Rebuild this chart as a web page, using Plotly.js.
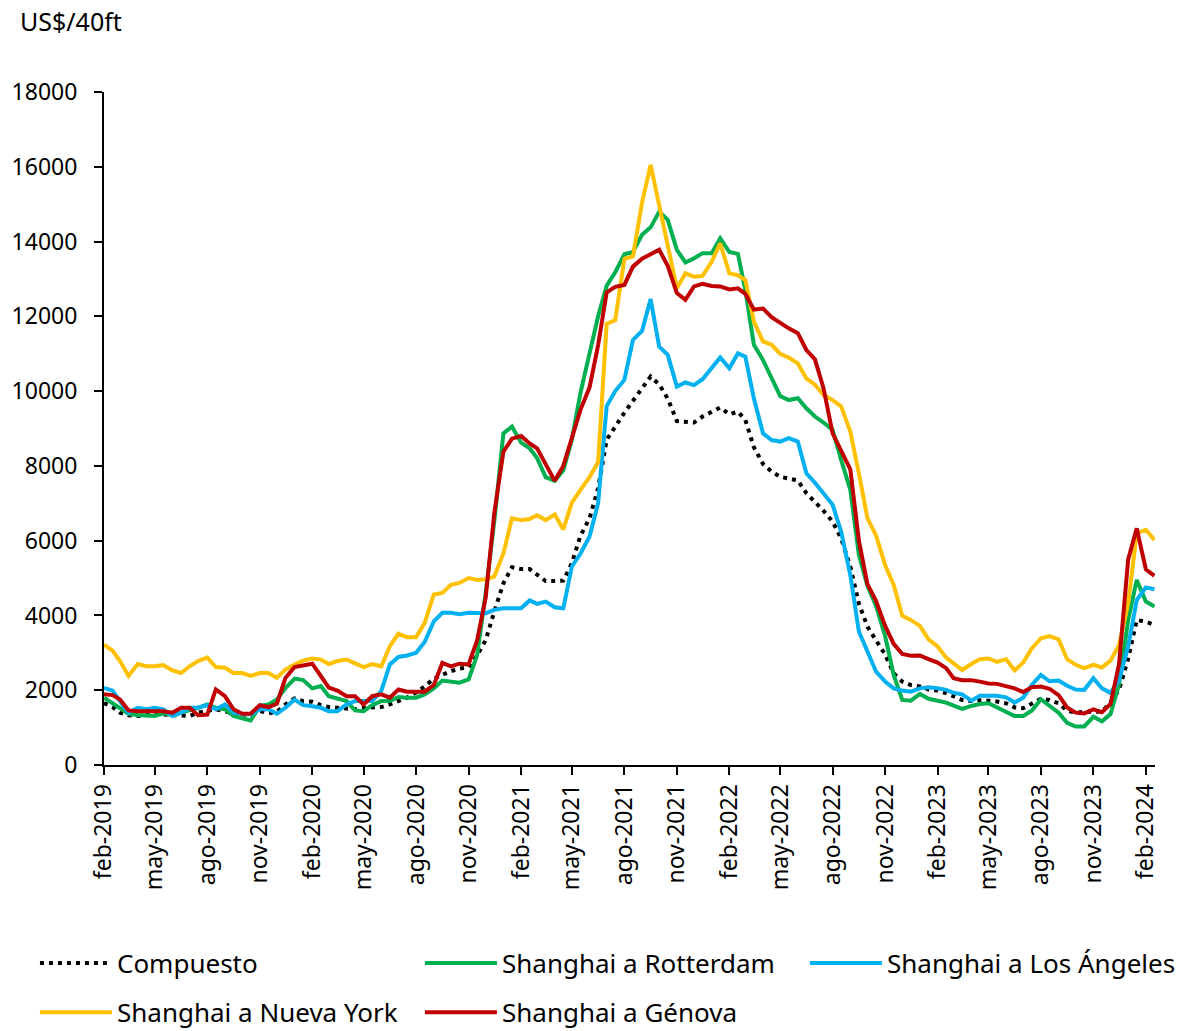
<!DOCTYPE html>
<html>
<head>
<meta charset="utf-8">
<script src="https://cdn.plot.ly/plotly-3.0.1.min.js"></script>
<style>
html, body { margin: 0; padding: 0; background: #fff; }
#chart { width: 1191px; height: 1031px; }
</style>
</head>
<body>
<div id="chart"></div>
<script>
// Semi-monthly sampling dates (categories)
const dates = [
"2019-02-01","2019-02-16","2019-03-01","2019-03-16","2019-04-01","2019-04-16","2019-05-01","2019-05-16","2019-06-01","2019-06-16",
"2019-07-01","2019-07-16","2019-08-01","2019-08-16","2019-09-01","2019-09-16","2019-10-01","2019-10-16","2019-11-01","2019-11-16",
"2019-12-01","2019-12-16","2020-01-01","2020-01-16","2020-02-01","2020-02-16","2020-03-01","2020-03-16","2020-04-01","2020-04-16",
"2020-05-01","2020-05-16","2020-06-01","2020-06-16","2020-07-01","2020-07-16","2020-08-01","2020-08-16","2020-09-01","2020-09-16",
"2020-10-01","2020-10-16","2020-11-01","2020-11-16","2020-12-01","2020-12-16","2021-01-01","2021-01-16","2021-02-01","2021-02-16",
"2021-03-01","2021-03-16","2021-04-01","2021-04-16","2021-05-01","2021-05-16","2021-06-01","2021-06-16","2021-07-01","2021-07-16",
"2021-08-01","2021-08-16","2021-09-01","2021-09-16","2021-10-01","2021-10-16","2021-11-01","2021-11-16","2021-12-01","2021-12-16",
"2022-01-01","2022-01-16","2022-02-01","2022-02-16","2022-03-01","2022-03-16","2022-04-01","2022-04-16","2022-05-01","2022-05-16",
"2022-06-01","2022-06-16","2022-07-01","2022-07-16","2022-08-01","2022-08-16","2022-09-01","2022-09-16","2022-10-01","2022-10-16",
"2022-11-01","2022-11-16","2022-12-01","2022-12-16","2023-01-01","2023-01-16","2023-02-01","2023-02-16","2023-03-01","2023-03-16",
"2023-04-01","2023-04-16","2023-05-01","2023-05-16","2023-06-01","2023-06-16","2023-07-01","2023-07-16","2023-08-01","2023-08-16",
"2023-09-01","2023-09-16","2023-10-01","2023-10-16","2023-11-01","2023-11-16","2023-12-01","2023-12-16","2024-01-01","2024-01-16",
"2024-02-01","2024-02-16"
];

const compuesto = [
1660,1550,1400,1330,1310,1340,1350,1350,1340,1330,
1310,1400,1460,1490,1440,1370,1340,1370,1450,1380,
1420,1620,1780,1710,1690,1600,1550,1530,1490,1490,
1530,1530,1550,1620,1710,1800,1940,2100,2310,2420,
2510,2580,2610,2940,3340,4100,4860,5290,5240,5240,
5090,4920,4920,4930,5400,6130,6600,7400,8700,9060,
9420,9740,10100,10390,10180,9800,9200,9180,9160,9320,
9430,9560,9380,9450,9230,8500,8050,7850,7710,7650,
7610,7270,7040,6800,6510,6060,5310,4320,3700,3350,
2950,2450,2230,2140,2100,2020,1990,1920,1830,1740,
1710,1730,1720,1700,1650,1540,1520,1630,1770,1740,
1650,1450,1400,1420,1430,1430,1670,2010,2850,3880,
3830,3750
];

const rotterdam = [
1800,1660,1530,1370,1335,1335,1310,1380,1330,1400,
1460,1530,1620,1530,1490,1310,1250,1190,1580,1620,
1750,2060,2310,2270,2050,2110,1840,1780,1710,1460,
1440,1600,1710,1710,1820,1800,1800,1890,2050,2260,
2240,2200,2290,2940,4610,6510,8870,9050,8620,8470,
8210,7700,7600,7880,8700,9950,11010,12000,12820,13180,
13660,13720,14180,14380,14800,14580,13780,13440,13550,13690,
13690,14090,13720,13670,12700,11240,10830,10340,9870,9760,
9810,9540,9320,9160,8960,8160,7360,5620,4790,4260,
3450,2410,1740,1720,1900,1770,1720,1670,1590,1500,
1580,1630,1650,1540,1410,1310,1310,1450,1760,1590,
1400,1130,1030,1030,1290,1170,1360,2160,3880,4950,
4370,4240
];

const losAngeles = [
2060,1990,1710,1400,1530,1490,1530,1490,1310,1400,
1530,1530,1600,1490,1620,1400,1370,1350,1490,1490,
1370,1530,1750,1600,1570,1530,1440,1440,1620,1710,
1710,1710,1980,2690,2890,2930,3000,3290,3840,4070,
4070,4030,4070,4070,4060,4150,4190,4190,4190,4400,
4310,4370,4220,4190,5310,5650,6110,7000,9600,10000,
10300,11370,11610,12460,11190,10970,10120,10230,10160,10320,
10600,10900,10610,11010,10920,9800,8870,8690,8650,8740,
8650,7800,7550,7270,6960,6240,5080,3570,3000,2500,
2230,2050,1990,1960,2050,2080,2050,2010,1930,1890,
1720,1850,1850,1850,1810,1670,1800,2140,2410,2240,
2260,2120,2020,2010,2320,2050,1930,2270,3170,4410,
4750,4700
];

const nuevaYork = [
3220,3060,2780,2380,2700,2640,2640,2670,2530,2460,
2640,2780,2870,2620,2600,2460,2460,2380,2460,2460,
2330,2550,2690,2790,2850,2820,2700,2780,2820,2730,
2620,2700,2640,3180,3510,3420,3420,3800,4560,4600,
4820,4870,5000,4950,4970,5040,5660,6600,6550,6580,
6680,6550,6700,6300,7020,7360,7700,8100,11800,11900,
13540,13600,15040,16050,14980,13870,12750,13150,13060,13080,
13460,13950,13150,13100,12970,11860,11330,11240,11000,10900,
10740,10340,10170,9900,9760,9590,8920,7800,6600,6140,
5350,4820,3990,3880,3720,3360,3170,2870,2720,2540,
2700,2830,2850,2760,2830,2530,2740,3120,3390,3450,
3360,2830,2680,2590,2680,2610,2790,3210,4320,6200,
6290,6020
];

const genova = [
1890,1870,1750,1460,1440,1440,1460,1440,1400,1530,
1530,1330,1350,2020,1840,1490,1370,1370,1600,1550,
1640,2330,2620,2670,2710,2380,2070,1990,1840,1840,
1620,1840,1890,1800,2020,1960,1960,1960,2140,2730,
2640,2710,2690,3340,4480,6730,8380,8730,8800,8600,
8470,8030,7600,8000,8780,9500,10100,11230,12640,12790,
12840,13330,13540,13660,13780,13350,12620,12440,12800,12870,
12810,12800,12720,12750,12600,12180,12210,11980,11820,11680,
11550,11100,10850,10080,8870,8380,7910,6000,4840,4390,
3720,3240,2970,2920,2930,2830,2740,2590,2320,2270,
2270,2230,2180,2170,2120,2050,1950,2080,2100,2040,
1870,1540,1400,1380,1490,1410,1630,2700,5500,6330,
5230,5060
];

const seriesNames = ["Compuesto","Shanghai a Rotterdam","Shanghai a Los Ángeles","Shanghai a Nueva York","Shanghai a Génova"];

const tickVals = [
"2019-02-01","2019-05-01","2019-08-01","2019-11-01","2020-02-01","2020-05-01","2020-08-01","2020-11-01",
"2021-02-01","2021-05-01","2021-08-01","2021-11-01","2022-02-01","2022-05-01","2022-08-01","2022-11-01",
"2023-02-01","2023-05-01","2023-08-01","2023-11-01","2024-02-01"
];
const tickText = [
"feb-2019","may-2019","ago-2019","nov-2019","feb-2020","may-2020","ago-2020","nov-2020",
"feb-2021","may-2021","ago-2021","nov-2021","feb-2022","may-2022","ago-2022","nov-2022",
"feb-2023","may-2023","ago-2023","nov-2023","feb-2024"
];

const FONT = "Noto Sans, DejaVu Sans, sans-serif";

const traces = [
  {x: dates, y: compuesto, name: seriesNames[0], type: "scatter", mode: "lines",
   line: {color: "#000000", width: 4, dash: "4px,5px"}, legend: "legend"},
  {x: dates, y: rotterdam, name: seriesNames[1], type: "scatter", mode: "lines",
   line: {color: "#00B050", width: 4}, legend: "legend"},
  {x: dates, y: losAngeles, name: seriesNames[2], type: "scatter", mode: "lines",
   line: {color: "#00B0F0", width: 4}, legend: "legend"},
  {x: dates, y: nuevaYork, name: seriesNames[3], type: "scatter", mode: "lines",
   line: {color: "#FFC000", width: 4}, legend: "legend2"},
  {x: dates, y: genova, name: seriesNames[4], type: "scatter", mode: "lines",
   line: {color: "#C00000", width: 4}, legend: "legend2"}
];

const legendBase = {
  orientation: "h",
  xanchor: "left",
  yanchor: "top",
  x: -0.0657,
  entrywidth: 298,
  entrywidthmode: "pixels",
  itemwidth: 72,
  font: {family: FONT, size: 26, color: "#000"},
  bgcolor: "rgba(0,0,0,0)",
  borderwidth: 0,
  traceorder: "normal"
};

const layout = {
  width: 1191,
  height: 1031,
  margin: {l: 104, r: 36, t: 92, b: 266, autoexpand: false},
  paper_bgcolor: "#ffffff",
  plot_bgcolor: "#ffffff",
  showlegend: true,
  font: {family: FONT, color: "#000"},
  xaxis: {
    type: "date",
    range: ["2019-02-01", "2024-02-17"],
    tickmode: "array",
    tickvals: tickVals,
    ticktext: tickText,
    tickangle: -90,
    ticks: "outside",
    ticklen: 8,
    tickwidth: 1.5,
    tickcolor: "#000",
    showline: true,
    linecolor: "#000",
    linewidth: 2,
    showgrid: false,
    zeroline: false,
    tickfont: {family: FONT, size: 23, color: "#000"}
  },
  yaxis: {
    range: [0, 18000],
    tick0: 0,
    dtick: 2000,
    tickformat: "d",
    ticks: "outside",
    ticklen: 8,
    tickwidth: 1.5,
    tickcolor: "#000",
    showline: true,
    linecolor: "#000",
    linewidth: 2,
    showgrid: false,
    zeroline: false,
    ticklabelstandoff: 12,
    tickfont: {family: FONT, size: 23, color: "#000"}
  },
  legend: Object.assign({}, legendBase, {y: -0.2595}),
  legend2: Object.assign({}, legendBase, {y: -0.3325}),
  annotations: [{
    text: "US$/40ft",
    xref: "paper", yref: "paper",
    x: -0.0818, y: 1.1055,
    xanchor: "left", yanchor: "middle",
    showarrow: false,
    font: {family: FONT, size: 25, color: "#000"}
  }]
};

Plotly.newPlot("chart", traces, layout, {displayModeBar: false, responsive: false});
</script>
</body>
</html>
